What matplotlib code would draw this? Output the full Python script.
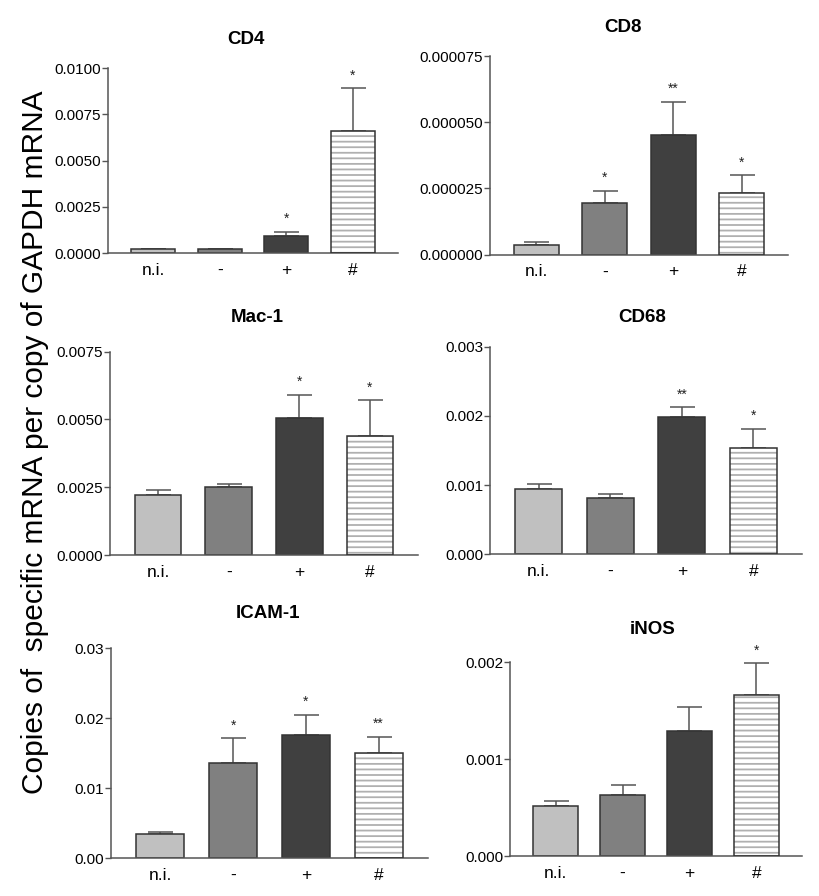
import numpy as np
import matplotlib
matplotlib.use("Agg")
import matplotlib.pyplot as plt

plt.rcParams['font.family'] = ['Liberation Sans', 'DejaVu Sans']
plt.rcParams['hatch.linewidth'] = 1.3

groups = ["n.i.", "-", "+", "#"]

cd4_mean = [0.00022, 0.00023, 0.00095, 0.0066]
cd4_err = [0.00002, 0.00002, 0.00022, 0.0023]
cd4_stars = ["", "", "*", "*"]

cd8_mean = [3.8e-6, 1.96e-5, 4.51e-5, 2.32e-5]
cd8_err = [1.1e-6, 4.6e-6, 1.26e-5, 6.9e-6]
cd8_stars = ["", "*", "**", "*"]

mac1_mean = [0.00222, 0.0025, 0.00507, 0.00438]
mac1_err = [0.00017, 0.00013, 0.00084, 0.00134]
mac1_stars = ["", "", "*", "*"]

cd68_mean = [0.000943, 0.000813, 0.001988, 0.001535]
cd68_err = [0.000077, 0.000062, 0.00014, 0.000279]
cd68_stars = ["", "", "**", "*"]

icam_mean = [0.00343, 0.01366, 0.01761, 0.0150]
icam_err = [0.00027, 0.00343, 0.00286, 0.00237]
icam_stars = ["", "*", "*", "**"]

inos_mean = [0.000513, 0.00063, 0.001294, 0.001666]
inos_err = [0.000058, 0.0001, 0.000246, 0.000327]
inos_stars = ["", "", "", "*"]

bar_colors = ["#c0c0c0", "#808080", "#404040", "white"]
W, H = 819, 896


def rect(left, top, right, bottom):
    return [left / W, 1 - bottom / H, (right - left) / W, (bottom - top) / H]


def panel(fig, box, title, title_xy, mean, err, stars, yticks, fmt):
    ax = fig.add_axes(rect(*box))
    x = np.arange(len(groups))
    width = 0.66
    for i in range(len(groups)):
        if groups[i] == "#":
            ax.bar(x[i], mean[i], width, color="white", edgecolor="#b0b0b0",
                   hatch="---", linewidth=0, zorder=2)
            ax.bar(x[i], mean[i], width, fill=False, edgecolor="#333333",
                   linewidth=1.1, zorder=3)
        else:
            ax.bar(x[i], mean[i], width, color=bar_colors[i], edgecolor="#333333",
                   linewidth=1.1, zorder=2)
    ax.errorbar(x, mean, yerr=[np.zeros(len(err)), err], fmt="none",
                ecolor="#555555", elinewidth=1.1, capsize=9, capthick=1.1, zorder=1)
    for i, s in enumerate(stars):
        if s:
            ax.annotate(s, (x[i], mean[i] + err[i]), xytext=(0, 4),
                        textcoords="offset points", ha="center", va="bottom",
                        fontsize=10, color="#222222")
    ax.set_xlim(-0.68, 3.68)
    ax.set_ylim(0, yticks[-1])
    ax.set_yticks(yticks)
    ax.set_yticklabels([fmt.format(v) for v in yticks])
    ax.set_xticks(x)
    ax.set_xticklabels(groups, fontsize=12.5)
    ax.tick_params(axis="x", length=0, pad=7)
    ax.tick_params(axis="y", length=4, width=1, color="#555555", labelsize=11, pad=1)
    for sp in ["top", "right"]:
        ax.spines[sp].set_visible(False)
    for sp in ["left", "bottom"]:
        ax.spines[sp].set_color("#555555")
        ax.spines[sp].set_linewidth(1.1)
    fig.text(title_xy[0] / W, 1 - title_xy[1] / H, title, ha="center", va="center",
             fontsize=13.5, fontweight="bold")
    return ax


fig = plt.figure(figsize=(W / 100, H / 100), dpi=100)

panel(fig, (108, 68, 398, 253.3), "CD4", (246, 39), cd4_mean, cd4_err, cd4_stars,
      [0, 0.0025, 0.005, 0.0075, 0.01], "{:.4f}")
panel(fig, (490, 56, 788, 254.7), "CD8", (623, 27), cd8_mean, cd8_err, cd8_stars,
      [0, 0.000025, 0.00005, 0.000075], "{:.6f}")
panel(fig, (110, 351.7, 418, 555), "Mac-1", (257, 318), mac1_mean, mac1_err, mac1_stars,
      [0, 0.0025, 0.005, 0.0075], "{:.4f}")
panel(fig, (490, 346.7, 802, 554.3), "CD68", (642, 318), cd68_mean, cd68_err, cd68_stars,
      [0, 0.001, 0.002, 0.003], "{:.3f}")
panel(fig, (111, 648, 428, 858.3), "ICAM-1", (268, 613), icam_mean, icam_err, icam_stars,
      [0, 0.01, 0.02, 0.03], "{:.2f}")
panel(fig, (510, 662.3, 802, 856), "iNOS", (653, 630), inos_mean, inos_err, inos_stars,
      [0, 0.001, 0.002], "{:.3f}")

fig.text(35 / W, 1 - 442 / H, "Copies of  specific mRNA per copy of GAPDH mRNA",
         rotation=90, ha="center", va="center", fontsize=21.5)

fig.savefig("out.png", dpi=100)
